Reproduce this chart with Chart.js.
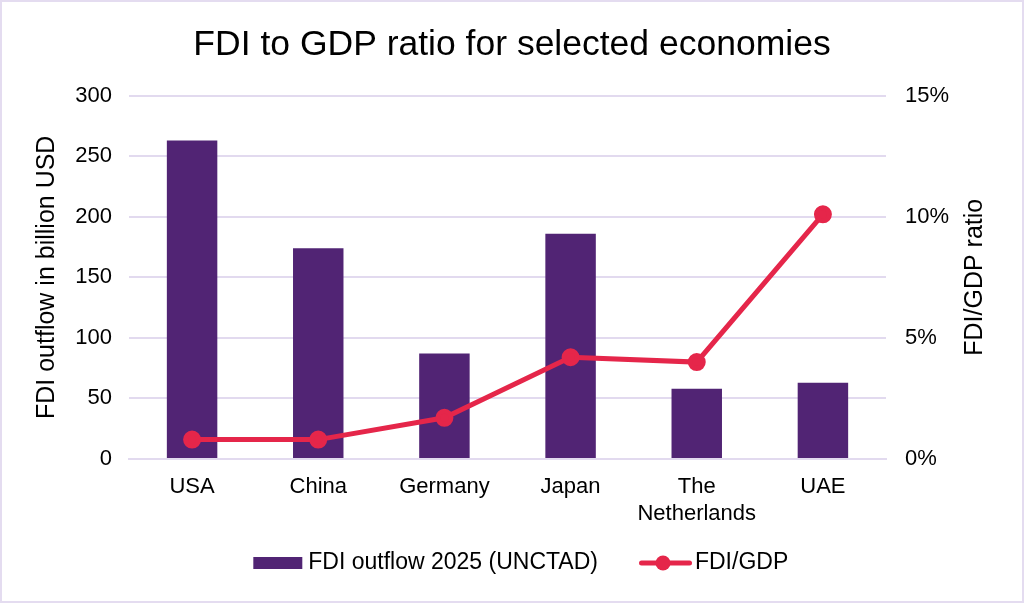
<!DOCTYPE html>
<html>
<head>
<meta charset="utf-8">
<script src="https://cdn.jsdelivr.net/npm/chart.js@4/dist/chart.umd.min.js"></script>
<style>
  html, body { margin: 0; padding: 0; background: #fff; }
  #wrap { width: 1024px; height: 603px; box-sizing: border-box; border: 2px solid #e4dcf0; }
</style>
</head>
<body>
<div id="wrap"><canvas id="chart"></canvas></div>
<script>
const categories = ['USA', 'China', 'Germany', 'Japan', ['The', 'Netherlands'], 'UAE'];
const fdiOutflow = [263, 174, 87, 186, 58, 63];
const fdiGdpRatio = [0.8, 0.8, 1.7, 4.2, 4.0, 10.1];
const leftTicks = [0, 50, 100, 150, 200, 250, 300];
const rightTicks = [0, 5, 10, 15];

const purple = '#512474';
const red = '#e5264a';
const gridColor = '#e2daef';
const font = 'Liberation Sans, Arial, Helvetica, sans-serif';

Chart.defaults.font.family = font;
Chart.defaults.color = '#000';

// legend icons: 80px wide images, centred on the 61px legend box
function legendIcon(kind) {
  let c = document.createElement('canvas');
  c.width = 80; c.height = 18;
  let g = c.getContext('2d');
  if (kind === 'bar') {
    g.fillStyle = purple;
    g.fillRect(27, 3, 49, 12);
  } else {
    g.strokeStyle = red;
    g.lineWidth = 5;
    g.lineCap = 'round';
    g.beginPath(); g.moveTo(28.5, 9); g.lineTo(76.5, 9); g.stroke();
    g.fillStyle = red;
    g.beginPath(); g.arc(50, 9, 7.5, 0, Math.PI * 2); g.fill();
  }
  return c;
}
const icons = [legendIcon('bar'), legendIcon('line')];

// right axis title reads bottom-to-top in the reference, so draw it ourselves
const rightTitle = {
  id: 'rightTitle',
  afterDraw(chart) {
    const {ctx, chartArea} = chart;
    ctx.save();
    ctx.translate(973, (chartArea.top + chartArea.bottom) / 2);
    ctx.rotate(-Math.PI / 2);
    ctx.font = '25px ' + font;
    ctx.fillStyle = '#000';
    ctx.textAlign = 'center';
    ctx.textBaseline = 'middle';
    ctx.fillText('FDI/GDP ratio', 0, 0);
    ctx.restore();
  }
};

new Chart(document.getElementById('chart'), {
  data: {
    labels: categories,
    datasets: [
      {
        type: 'line',
        label: 'FDI/GDP',
        data: fdiGdpRatio,
        yAxisID: 'y1',
        borderColor: red,
        backgroundColor: red,
        borderWidth: 5,
        pointRadius: 6.5,
        pointHoverRadius: 6.5,
        order: 0
      },
      {
        type: 'bar',
        label: 'FDI outflow 2025 (UNCTAD)',
        data: fdiOutflow,
        yAxisID: 'y',
        backgroundColor: purple,
        barPercentage: 0.4,
        categoryPercentage: 1,
        order: 1
      }
    ]
  },
  options: {
    responsive: true,
    maintainAspectRatio: false,
    animation: false,
    layout: { padding: { left: 0, right: 0, top: 0, bottom: 16.5 } },
    plugins: {
      title: {
        display: true,
        text: 'FDI to GDP ratio for selected economies',
        font: { size: 35.5, weight: 'normal' },
        color: '#000',
        padding: { top: 22, bottom: 29 }
      },
      legend: {
        position: 'bottom',
        labels: {
          usePointStyle: true,
          pointStyleWidth: 61,
          boxHeight: 16,
          padding: 24.5,
          font: { size: 23 },
          color: '#000',
          generateLabels(chart) {
            return [
              { text: 'FDI outflow 2025 (UNCTAD)', pointStyle: icons[0], datasetIndex: 1, fillStyle: purple, strokeStyle: purple, lineWidth: 0 },
              { text: 'FDI/GDP', pointStyle: icons[1], datasetIndex: 0, fillStyle: red, strokeStyle: red, lineWidth: 0 }
            ];
          }
        }
      },
      tooltip: { enabled: false }
    },
    scales: {
      x: {
        grid: { display: false, drawTicks: false },
        border: { color: gridColor, width: 2 },
        ticks: { font: { size: 22 }, color: '#000', padding: 15 },
        afterFit(axis) { axis.height = 68; }
      },
      y: {
        position: 'left',
        min: 0,
        max: 300,
        afterBuildTicks(axis) { axis.ticks = leftTicks.map(v => ({ value: v })); },
        afterFit(axis) { axis.width = 127; },
        grid: { color: gridColor, lineWidth: 2, drawTicks: false },
        border: { display: false },
        ticks: { font: { size: 22 }, color: '#000', padding: 17 },
        title: { display: true, text: 'FDI outflow in billion USD', font: { size: 25 }, color: '#000', padding: { top: 30, bottom: 0 } }
      },
      y1: {
        position: 'right',
        min: 0,
        max: 15,
        afterBuildTicks(axis) { axis.ticks = rightTicks.map(v => ({ value: v })); },
        afterFit(axis) { axis.width = 136; },
        grid: { display: false, drawTicks: false },
        border: { display: false },
        ticks: { font: { size: 22 }, color: '#000', padding: 19, callback: v => v + '%' }
      }
    }
  },
  plugins: [rightTitle]
});
</script>
</body>
</html>
